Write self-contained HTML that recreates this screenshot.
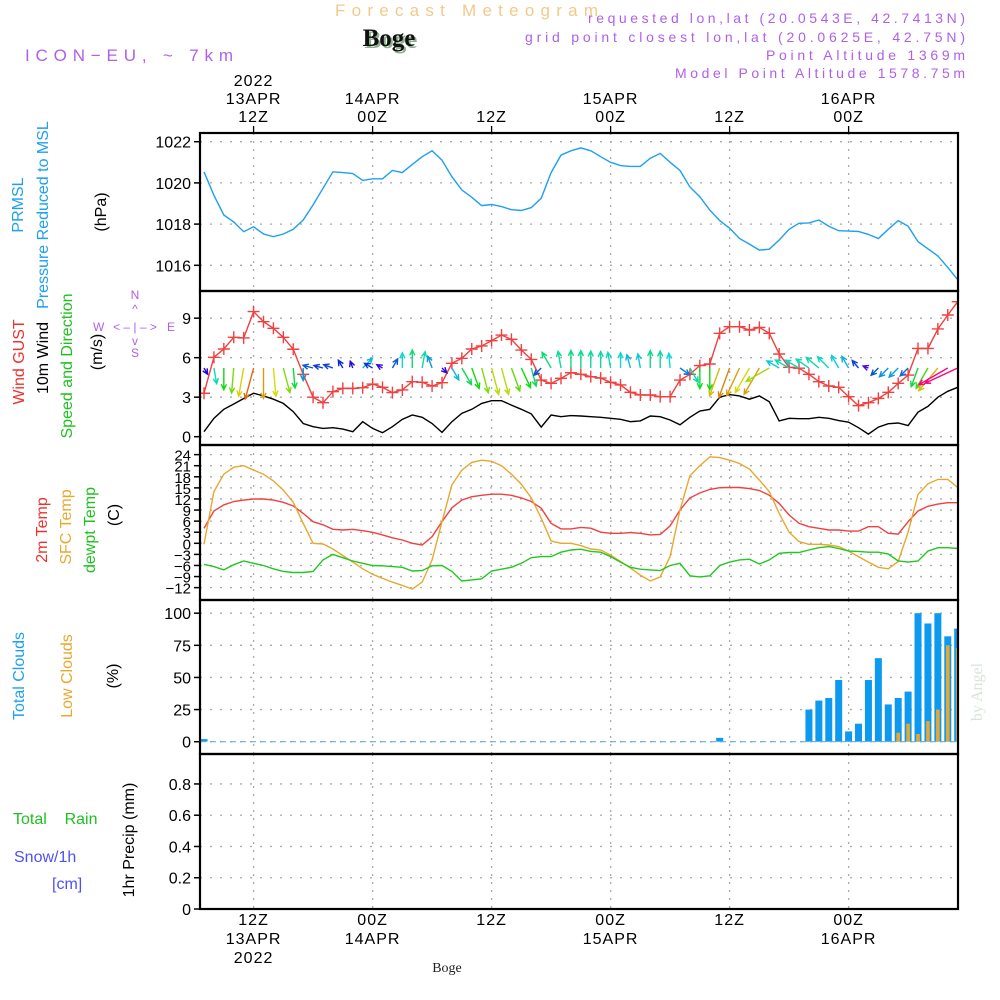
<!DOCTYPE html>
<html><head><meta charset="utf-8"><style>
html,body{margin:0;padding:0;background:#fff;}
svg{display:block;font-family:"Liberation Sans",sans-serif;}
</style></head><body>
<svg id="chart" width="1000" height="1000" viewBox="0 0 1000 1000">
<defs><clipPath id="plotclip"><rect x="200" y="120" width="758" height="800"/></clipPath></defs>
<g id="hdr">
<text x="335" y="16" font-size="17" fill="#f3c98a" textLength="263">Forecast Meteogram</text>
<text x="391" y="48" font-size="25" font-weight="bold" fill="#8fb08f" text-anchor="middle" font-family="Liberation Serif,serif">Boge</text>
<text x="389" y="46" font-size="25" font-weight="bold" fill="#111" text-anchor="middle" font-family="Liberation Serif,serif">Boge</text>
<text x="25" y="61" font-size="17" fill="#b060e8" textLength="208">ICON−EU, ~ 7km</text>
<text x="965" y="23" font-size="14" fill="#b060e8" text-anchor="end" textLength="377">requested lon,lat (20.0543E, 42.7413N)</text>
<text x="965" y="42" font-size="14" fill="#b060e8" text-anchor="end" textLength="440">grid point closest lon,lat (20.0625E, 42.75N)</text>
<text x="965" y="60" font-size="14" fill="#b060e8" text-anchor="end" textLength="199">Point Altitude 1369m</text>
<text x="965" y="78" font-size="14" fill="#b060e8" text-anchor="end" textLength="290">Model Point Altitude 1578.75m</text>
</g>
<g id="grid"></g>
<g id="marks" clip-path="url(#plotclip)"></g>
<g id="axes"></g>
<g id="labels" font-size="16">
<text transform="translate(23,205) rotate(-90)" text-anchor="middle" fill="#1ea0f0">PRMSL</text>
<text transform="translate(48,215) rotate(-90)" text-anchor="middle" fill="#1ea0f0">Pressure Reduced to MSL</text>
<text transform="translate(106,212) rotate(-90)" text-anchor="middle" fill="#000">(hPa)</text>
<text transform="translate(24,362) rotate(-90)" text-anchor="middle" fill="#f03030">Wind GUST</text>
<text transform="translate(48,358) rotate(-90)" text-anchor="middle" fill="#000">10m Wind</text>
<text transform="translate(72,366) rotate(-90)" text-anchor="middle" fill="#20c020">Speed and Direction</text>
<text transform="translate(102,352) rotate(-90)" text-anchor="middle" fill="#000">(m/s)</text>
<g fill="#b060e8" font-size="12">
<text x="135" y="299" text-anchor="middle">N</text><text x="135" y="357" text-anchor="middle">S</text>
<text x="93" y="331">W</text><text x="167" y="331">E</text>
<text x="135" y="331" text-anchor="middle">&lt; – | – &gt;</text>
<text x="135" y="313" text-anchor="middle">^</text><text x="135" y="345" text-anchor="middle">v</text>
</g>
<text transform="translate(47,530) rotate(-90)" text-anchor="middle" fill="#f03030">2m Temp</text>
<text transform="translate(71,527) rotate(-90)" text-anchor="middle" fill="#e8a830">SFC Temp</text>
<text transform="translate(95,530) rotate(-90)" text-anchor="middle" fill="#20c020">dewpt Temp</text>
<text transform="translate(119,515) rotate(-90)" text-anchor="middle" fill="#000">(C)</text>
<text transform="translate(24,676) rotate(-90)" text-anchor="middle" fill="#1ea0f0">Total Clouds</text>
<text transform="translate(72,676) rotate(-90)" text-anchor="middle" fill="#e8a830">Low Clouds</text>
<text transform="translate(118,676) rotate(-90)" text-anchor="middle" fill="#000">(%)</text>
<text x="13" y="824" fill="#20c020" font-size="16">Total&#160;&#160;&#160;&#160;Rain</text>
<text x="14" y="862" fill="#5050f0" font-size="16">Snow/1h</text>
<text x="52" y="889" fill="#5050f0" font-size="16">[cm]</text>
<text transform="translate(134,840) rotate(-90)" text-anchor="middle" fill="#000">1hr Precip (mm)</text>
<text transform="translate(982,692) rotate(-90)" text-anchor="middle" fill="#d8e4d8" font-size="16" font-family="Liberation Serif,serif">by Angel</text>
<text x="447" y="972" text-anchor="middle" font-size="14" font-family="Liberation Serif,serif" fill="#222">Boge</text>
</g>
</svg>
<script>
// hourly data starting 07Z 13APR2022
const pressure=[1020.54,1019.4,1018.44,1018.1,1017.63,1017.87,1017.52,1017.39,1017.52,1017.75,1018.2,1018.93,1019.74,1020.54,1020.5,1020.45,1020.12,1020.2,1020.2,1020.6,1020.5,1020.9,1021.27,1021.56,1021.1,1020.3,1019.66,1019.3,1018.9,1018.95,1018.85,1018.7,1018.66,1018.8,1019.25,1020.5,1021.35,1021.56,1021.7,1021.56,1021.27,1021.0,1020.84,1020.8,1020.8,1021.2,1021.43,1021.0,1020.6,1019.8,1019.33,1018.68,1018.17,1017.8,1017.3,1017.03,1016.74,1016.78,1017.23,1017.75,1018.04,1018.06,1018.2,1017.9,1017.68,1017.66,1017.64,1017.5,1017.3,1017.75,1018.17,1017.9,1017.15,1016.8,1016.45,1015.9,1015.3];
const windSpeed=[0.38,1.4,2.08,2.48,2.9,3.3,3.1,2.85,2.53,1.9,1.0,0.76,0.63,0.68,0.58,0.38,1.14,0.63,0.3,0.76,1.32,1.65,1.47,1.0,0.33,1.14,1.78,2.08,2.53,2.73,2.73,2.4,2.08,1.73,0.73,1.65,1.52,1.6,1.57,1.52,1.47,1.4,1.32,1.14,1.2,1.57,1.52,1.27,0.9,1.47,1.95,2.08,3.0,3.2,3.1,2.85,3.1,2.65,1.2,1.4,1.37,1.37,1.47,1.4,1.22,1.1,0.68,0.2,0.73,0.99,1.04,0.84,1.86,2.3,3.0,3.45,3.75];
const windGust=[3.3,6.03,6.66,7.55,7.5,9.5,8.73,8.23,7.55,6.64,4.74,3.0,2.58,3.42,3.67,3.67,3.72,4.0,3.75,3.35,3.55,4.18,4.13,3.85,4.1,5.57,5.95,6.66,6.89,7.29,7.72,7.39,6.58,5.87,4.3,4.05,4.43,4.86,4.74,4.56,4.45,4.13,3.93,3.37,3.17,3.17,3.04,3.04,4.3,4.74,5.4,5.52,7.85,8.35,8.35,8.1,8.3,7.85,6.28,5.27,5.2,4.74,4.18,3.85,3.75,3.04,2.36,2.58,2.91,3.37,4.05,4.68,6.7,6.7,8.18,9.24,10.25];
const windDir=[150,170,180,185,190,195,180,175,165,175,180,285,285,290,330,340,45,300,300,30,0,0,10,340,135,150,150,160,165,165,165,160,155,165,225,330,350,0,0,0,0,350,0,345,350,0,0,355,125,150,180,180,200,200,205,210,210,240,300,300,300,305,310,315,330,330,320,290,225,225,225,225,200,210,220,240,245];
const temp2m=[4.06,8.74,10.4,11.3,11.7,12.0,12.0,11.7,11.1,10.1,8.1,5.85,5.0,3.8,3.6,3.8,3.4,2.98,2.26,1.5,0.9,0,-0.45,1.8,5.85,9.6,11.7,12.6,13.0,13.3,13.3,13.0,12.3,11.3,9.5,5.4,3.9,3.9,4.3,4.1,3.0,2.7,2.7,2.9,2.7,2.26,2.4,4.7,9.0,12.3,13.6,14.6,15.05,15.1,15.1,14.8,14.3,13.0,10.8,7.66,5.4,4.5,4.06,3.6,3.6,3.3,3.3,4.5,4.5,2.7,2.5,5.85,8.74,10.0,10.6,11.0,11.0];
const tempSfc=[-0.27,14.0,18.7,20.6,21.0,19.8,18.7,16.9,14.4,11.1,5.4,0,-0.2,-1.55,-3.3,-5.1,-6.9,-8.4,-9.5,-10.5,-11.4,-12.4,-10.5,-4.5,5.85,15.8,19.8,21.9,22.5,22.2,21.0,18.7,16.0,12.3,6.8,0.63,0,0,-0.63,-1.55,-1.8,-3.2,-4.9,-6.7,-8.6,-10.2,-9.1,-3.6,9.0,18.3,21.0,23.4,23.2,22.5,21.6,20.1,17.1,14.0,8.1,3.0,0.45,-0.27,-0.27,-0.45,-0.9,-2.1,-3.6,-5.1,-6.5,-6.9,-4.9,3.0,13.2,16.1,17.3,17.3,15.1];
const dewpt=[-5.7,-6.3,-7.2,-5.8,-4.8,-5.4,-6.0,-6.9,-7.6,-7.9,-7.9,-7.6,-4.5,-3.0,-3.9,-4.8,-5.4,-6.0,-6.1,-6.3,-6.5,-7.5,-7.4,-6.1,-6.0,-7.6,-10.2,-9.9,-9.6,-7.5,-7.0,-6.5,-5.4,-3.9,-3.6,-3.6,-2.4,-1.8,-1.6,-2.2,-2.4,-3.6,-5.1,-6.5,-7.0,-7.2,-7.4,-6.0,-5.4,-8.8,-9.1,-8.8,-6.0,-5.1,-4.5,-4.3,-5.6,-4.5,-2.7,-2.5,-2.5,-1.8,-1.2,-0.9,-1.4,-2.1,-2.2,-2.4,-2.4,-2.9,-4.8,-5.1,-4.8,-2.1,-1.2,-1.2,-1.4];
const totalClouds=[2,0,0,0,0,0,0,0,0,0,0,0,0,0,0,0,0,0,0,0,0,0,0,0,0,0,0,0,0,0,0,0,0,0,0,0,0,0,0,0,0,0,0,0,0,0,0,0,0,0,0,0,3,0,0,0,0,0,0,0,0,25,32,34,48,8,14,48,65,29,34,39,100,92,100,82,88];
const lowClouds=[0,0,0,0,0,0,0,0,0,0,0,0,0,0,0,0,0,0,0,0,0,0,0,0,0,0,0,0,0,0,0,0,0,0,0,0,0,0,0,0,0,0,0,0,0,0,0,0,0,0,0,0,0,0,0,0,0,0,0,0,0,0,0,0,0,0,0,0,0,0,7,14,6,16,25,75,73];
const precip=new Array(77).fill(0);
const pressTicks=[1016,1018,1020,1022];
const windTicks=[0,3,6,9];
const tempTicks=[-15,-12,-9,-6,-3,0,3,6,9,12,15,18,21,24];
const cloudTicks=[0,25,50,75,100];
const precipTicks=[0,0.2,0.4,0.6,0.8];
const topTickHours=[5,17,29,41,53,65];
const topTickLabels=[["2022","13APR","12Z"],["14APR","00Z"],["12Z"],["15APR","00Z"],["12Z"],["16APR","00Z"]];
const botTickLabels=[["12Z","13APR","2022"],["00Z","14APR"],["12Z"],["00Z","15APR"],["12Z"],["00Z","16APR"]];

const NS="http://www.w3.org/2000/svg";
const L=200,R=958;
function mk(tag,attrs,parent){const e=document.createElementNS(NS,tag);for(const k in attrs)e.setAttribute(k,attrs[k]);document.getElementById(parent).appendChild(e);return e;}
const xOf=i=>204+i*9.917;
const yP=v=>141.7+(1022-v)*20.6;
const yW=v=>436.7-v*13.17;
const yT=v=>543.3-v*3.695;
const yC=v=>741.7-v*1.285;
const yR=v=>909-v*156.3;
const panels=[[133,291],[291,445],[445,600],[600,754],[754,909]];

function hgrid(ticks,f,name,fmt){
  ticks.forEach(t=>{
    const y=f(t);
    const g=mk('line',{x1:L,x2:R,y1:y,y2:y,stroke:'#aaa','stroke-width':1.3,'stroke-dasharray':'2 8'},'grid');
    
    
    const tk=mk('line',{x1:L-6,x2:L,y1:y,y2:y,stroke:'#000','stroke-width':1.5},'axes');
    
    
    const lb=mk('text',{x:L-9,y:y+6,'text-anchor':'end','font-size':name==='temp'?15:16,fill:'#000'},'axes');
    
    
    lb.textContent=fmt?fmt(t):String(t);
  });
}
hgrid(pressTicks,yP,'pressure');
hgrid(windTicks,yW,'wind');
hgrid(tempTicks.filter(t=>t>-15),yT,'temp',t=>t<0?'−'+(-t):String(t));
hgrid(cloudTicks,yC,'clouds');
hgrid(precipTicks,yR,'precip',t=>t===0?'0':t.toFixed(1));
topTickHours.forEach((h,k)=>{
  const x=xOf(h);
  panels.forEach(p=>{
    const v=mk('line',{x1:x,x2:x,y1:p[0],y2:p[1],stroke:'#aaa','stroke-width':1.3,'stroke-dasharray':'2 6'},'grid');
    
    
  });
  const t1=mk('line',{x1:x,x2:x,y1:126,y2:133,stroke:'#000','stroke-width':1.3},'axes');
  
  
  const tl=topTickLabels[k];
  tl.forEach((s,j)=>{
    const t=mk('text',{x:x,y:122-(tl.length-1-j)*18,'text-anchor':'middle','font-size':16,'letter-spacing':1},'axes');
    
    
    t.textContent=s;
  });
  botTickLabels[k].forEach((s,j)=>{
    const t=mk('text',{x:x,y:925+j*19,'text-anchor':'middle','font-size':16,'letter-spacing':1},'axes');
    
    
    t.textContent=s;
  });
});

function line(arr,f,color,name){
  const pts=arr.map((v,i)=>xOf(i).toFixed(1)+','+f(v).toFixed(1)).join(' ');
  const p=mk('polyline',{points:pts,fill:'none',stroke:color,'stroke-width':1.4},'marks');
  
  
}
line(pressure,yP,'#1ea0f0','pressure-line');
line(windSpeed,yW,'#000','wind-speed-line');
line(windGust,yW,'#f04040','wind-gust-line');
windGust.forEach((v,i)=>{
  const x=xOf(i),y=yW(v);
  const c=mk('path',{d:`M${x-6},${y}H${x+6}M${x},${y-6}V${y+6}`,stroke:'#f04040','stroke-width':1.4},'marks');
  
  
});
function spdColor(s){if(s>3.4)return 'hsl(330,95%,50%)';let h=275-s*75;if(h<0)h+=360;return `hsl(${h},90%,45%)`;}
windDir.forEach((d,i)=>{
  const s=windSpeed[i];const len=4+s*8.5;const a=d*Math.PI/180;
  const x0=xOf(i),y0=368,x1=x0+len*Math.sin(a),y1=y0-len*Math.cos(a);
  const h1=a+Math.PI-0.45,h2=a+Math.PI+0.45,hl=6;
  const p=mk('path',{d:`M${x0},${y0}L${x1},${y1}M${x1+hl*Math.sin(h1)},${y1-hl*Math.cos(h1)}L${x1},${y1}L${x1+hl*Math.sin(h2)},${y1-hl*Math.cos(h2)}`,stroke:spdColor(s),'stroke-width':1.4,fill:'none'},'marks');
  
  
});
line(temp2m,yT,'#f04040','temp-2m-line');
line(tempSfc,yT,'#e8a830','temp-sfc-line');
line(dewpt,yT,'#20c820','dewpt-line');
totalClouds.forEach((v,i)=>{
  const x=xOf(i);
  const b=mk('rect',{x:x-3.5,y:yC(v),width:7,height:Math.max(yC(0)-yC(v),0.01),fill:'#0b9af0'},'marks');
  
  
});
lowClouds.forEach((v,i)=>{
  const x=xOf(i);
  const b=mk('rect',{x:x-1.8,y:yC(v),width:3.6,height:Math.max(yC(0)-yC(v),0.01),fill:'#e8a830'},'marks');
  
  
});
const zl=mk('line',{x1:L,x2:R,y1:yC(0),y2:yC(0),stroke:'#6aaee0','stroke-width':1.2,'stroke-dasharray':'6 4'},'marks');


precip.forEach((v,i)=>{
  const b=mk('rect',{x:xOf(i)-3.5,y:yR(v),width:7,height:Math.max(yR(0)-yR(v),0.01),fill:'#20c020'},'marks');
  
  
});
const pl=mk('line',{x1:L,x2:R,y1:yR(0),y2:yR(0),stroke:'#000','stroke-width':1.5,'stroke-dasharray':'8 3'},'marks');



panels.forEach((p,k)=>{
  const r=mk('rect',{x:L,y:p[0],width:R-L,height:p[1]-p[0],fill:'none',stroke:'#000','stroke-width':2.2},'axes');
  
  
});
</script>
</body></html>
